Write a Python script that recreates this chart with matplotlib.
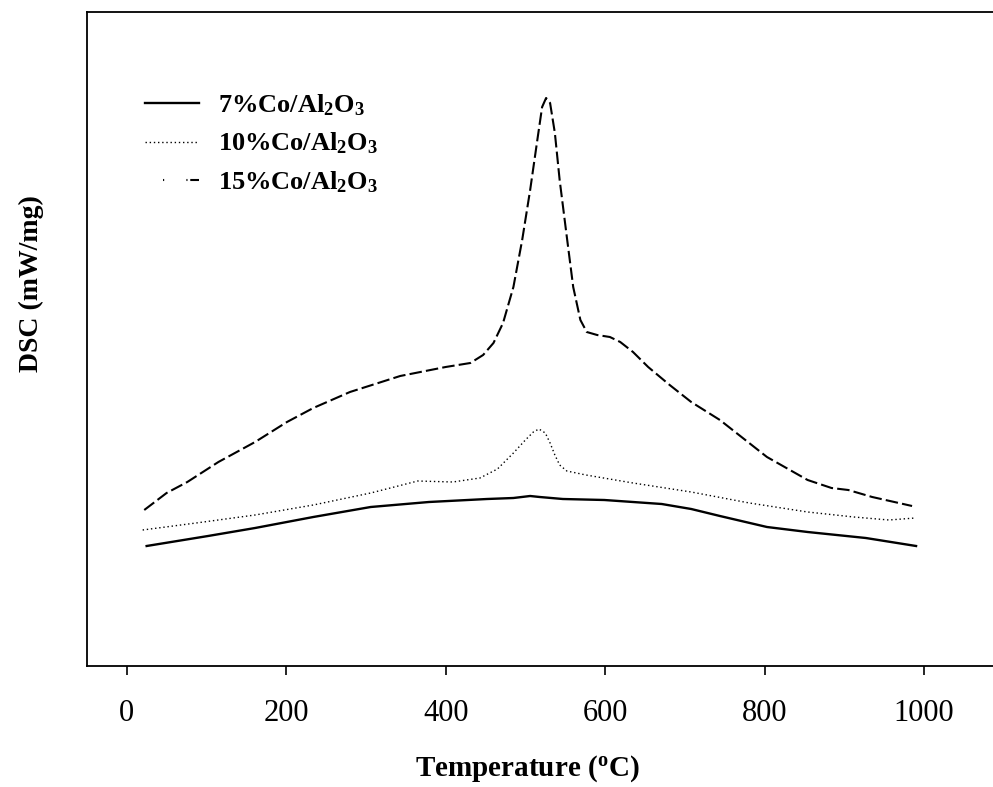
import numpy as np
import matplotlib
matplotlib.use("Agg")
import matplotlib.pyplot as plt

# Courbes DSC (unités arbitraires, pas de graduation en y)
temp_7 = [25, 102, 161, 234, 306, 379, 452, 485, 506, 518, 547, 599, 671, 708, 744, 803, 854, 927, 990]
dsc_7 = [1.20, 1.30, 1.38, 1.49, 1.59, 1.64, 1.67, 1.68, 1.70, 1.69, 1.67, 1.66, 1.62, 1.57, 1.50,
         1.39, 1.34, 1.28, 1.20]

temp_10 = [20, 87, 161, 234, 306, 365, 409, 443, 465, 485, 500, 510, 517, 525, 531, 537, 543, 552,
           576, 635, 708, 781, 854, 912, 956, 989]
dsc_10 = [1.36, 1.43, 1.51, 1.61, 1.73, 1.85, 1.84, 1.88, 1.97, 2.13, 2.26, 2.34, 2.37, 2.33, 2.23,
          2.11, 2.01, 1.95, 1.91, 1.83, 1.74, 1.63, 1.54, 1.49, 1.46, 1.48]

temp_15 = [22, 50, 76, 115, 161, 201, 234, 280, 343, 400, 431, 447, 460, 472, 485, 496, 506, 515,
           521, 526, 531, 537, 543, 552, 560, 569, 577, 590, 606, 619, 635, 654, 681, 708, 744,
           803, 854, 884, 905, 935, 985]
dsc_15 = [1.56, 1.73, 1.84, 2.04, 2.24, 2.44, 2.58, 2.74, 2.90, 2.99, 3.03, 3.11, 3.23, 3.43, 3.79,
          4.26, 4.76, 5.26, 5.59, 5.68, 5.63, 5.33, 4.86, 4.29, 3.79, 3.46, 3.34, 3.31, 3.29, 3.24,
          3.14, 2.99, 2.81, 2.64, 2.46, 2.09, 1.86, 1.78, 1.76, 1.69, 1.60]

labels = ["7%Co/Al$_2$O$_3$", "10%Co/Al$_2$O$_3$", "15%Co/Al$_2$O$_3$"]
xticks = [0, 200, 400, 600, 800, 1000]

plt.rcParams["font.family"] = ["Liberation Serif", "DejaVu Serif"]
plt.rcParams["mathtext.default"] = "regular"
plt.rcParams["lines.scale_dashes"] = False

fig = plt.figure(figsize=(9.93, 7.87), dpi=100)
ax = fig.add_axes([87 / 993, 121 / 787, 906 / 993, 654 / 787])

ax.plot(temp_7, dsc_7, color="black", lw=1.7, linestyle="-", label=labels[0])
ax.plot(temp_10, dsc_10, color="black", lw=1.0, linestyle=(0, (1, 2)), label=labels[1])
ax.plot(temp_15, dsc_15, color="black", lw=1.5, linestyle=(0, (9, 3)), label=labels[2])

ax.set_xlim(-49.8, 1086.5)
ax.set_ylim(0, 6.54)
ax.set_xticks(xticks)
ax.set_yticks([])
ax.tick_params(axis="x", direction="out", length=6.5, width=1.2, pad=17, labelsize=22)

for cote in ["left", "bottom", "top"]:
    ax.spines[cote].set_linewidth(1.3)
ax.spines["right"].set_visible(False)

ax.set_xlabel("Temperature ($^o$C)", fontsize=21, fontweight="bold")
ax.xaxis.set_label_coords(0.486, -0.134)
ax.set_ylabel("DSC (mW/mg)", fontsize=20, fontweight="bold")
ax.yaxis.set_label_coords(-0.048, 0.585)

leg = fig.legend(loc="upper left", bbox_to_anchor=(145 / 993, 1 - 92 / 787), frameon=False,
                 prop={"weight": "bold", "size": 19}, handlelength=2.05, handletextpad=0.72,
                 labelspacing=0.5, borderpad=0, borderaxespad=0)
# motif de la légende pour la courbe 15 %
leg.get_lines()[2].set_linestyle((7, (7, 13, 0.8, 16, 0.8, 2)))

fig.savefig("out.png", dpi=100)
